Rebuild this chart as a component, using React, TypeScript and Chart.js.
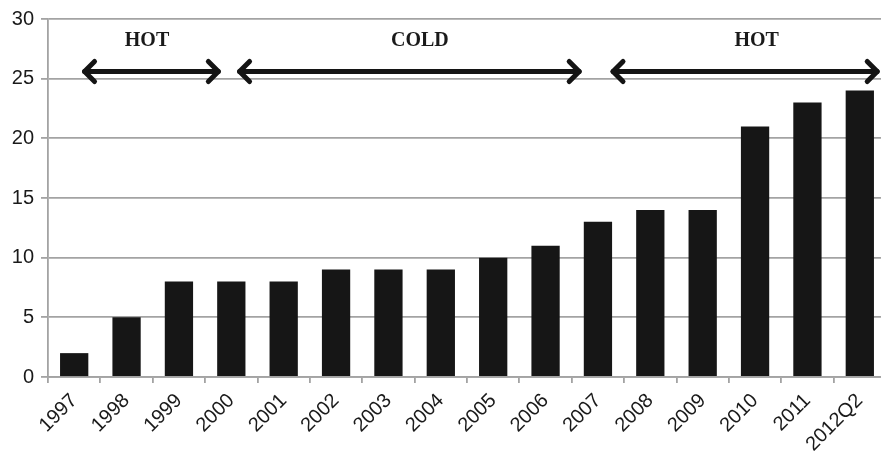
import React, { useEffect, useRef } from "react";
import { Chart, registerables } from "chart.js";

Chart.register(...registerables);

const categories = ["1997", "1998", "1999", "2000", "2001", "2002", "2003", "2004", "2005", "2006", "2007", "2008", "2009", "2010", "2011", "2012Q2"];
const values = [2, 5, 8, 8, 8, 9, 9, 9, 10, 11, 13, 14, 14, 21, 23, 24];
const yTicks = [0, 5, 10, 15, 20, 25, 30];

// annotation arrows in category-index units / value units
const arrowLabels = ["HOT", "COLD", "HOT"];
const arrowStarts = [0.15, 3.11, 10.24];
const arrowEnds = [2.8, 9.69, 15.38];
const labelCenters = [1.39, 6.6, 13.03];
const arrowLevel = 25.6;
const labelLevel = 28.2;

const arrowPlugin = {
  id: "arrows",
  afterDraw(chart: any) {
    const { ctx, scales } = chart;
    const xs = scales.x;
    const ys = scales.y;
    ctx.save();
    ctx.strokeStyle = "#141414";
    ctx.fillStyle = "#1a1a1a";
    ctx.lineWidth = 5;
    ctx.lineCap = "round";
    ctx.lineJoin = "round";
    const y = ys.getPixelForValue(arrowLevel);
    const h = 10;
    for (let i = 0; i < arrowStarts.length; i++) {
      const x1 = xs.getPixelForValue(arrowStarts[i]) + 2.5;
      const x2 = xs.getPixelForValue(arrowEnds[i]) - 2.5;
      ctx.beginPath();
      ctx.moveTo(x1, y);
      ctx.lineTo(x2, y);
      ctx.stroke();
      ctx.beginPath();
      ctx.moveTo(x1 + h, y - h);
      ctx.lineTo(x1, y);
      ctx.lineTo(x1 + h, y + h);
      ctx.stroke();
      ctx.beginPath();
      ctx.moveTo(x2 - h, y - h);
      ctx.lineTo(x2, y);
      ctx.lineTo(x2 - h, y + h);
      ctx.stroke();
      ctx.font = "bold 20px 'Liberation Serif', 'Times New Roman', serif";
      ctx.textAlign = "center";
      ctx.textBaseline = "middle";
      ctx.fillText(arrowLabels[i], xs.getPixelForValue(labelCenters[i]), ys.getPixelForValue(labelLevel));
    }
    ctx.restore();
  },
};

export default function App() {
  const ref = useRef<HTMLCanvasElement>(null);
  useEffect(() => {
    document.body.style.margin = "0";
    const canvas = ref.current!;
    const chart = new Chart(canvas, {
      type: "bar",
      data: {
        labels: categories,
        datasets: [
          {
            data: values,
            backgroundColor: "#161616",
            borderWidth: 0,
            barPercentage: 0.54,
            categoryPercentage: 1,
          },
        ],
      },
      options: {
        animation: false,
        responsive: false,
        maintainAspectRatio: false,
        layout: { padding: { top: 19, right: 2, left: 0, bottom: 0 } },
        plugins: { legend: { display: false }, tooltip: { enabled: false } },
        scales: {
          x: {
            grid: {
              offset: true,
              drawOnChartArea: false,
              drawTicks: true,
              tickLength: 6,
              color: "#a3a3a3",
              lineWidth: 1.8,
            },
            border: { color: "#a3a3a3", width: 1.8 },
            ticks: {
              minRotation: 45,
              maxRotation: 45,
              autoSkip: false,
              color: "#1a1a1a",
              font: { family: "'Liberation Sans', Arial, sans-serif", size: 20 },
              padding: 6,
            },
            afterFit(scale: any) {
              scale.height = 74;
            },
          },
          y: {
            min: 0,
            max: 30,
            afterBuildTicks(scale: any) {
              scale.ticks = yTicks.map((v) => ({ value: v }));
            },
            grid: {
              color: "#a3a3a3",
              lineWidth: 1.8,
              drawTicks: true,
              tickLength: 7,
            },
            border: { color: "#a3a3a3", width: 1.8 },
            ticks: {
              color: "#1a1a1a",
              font: { family: "'Liberation Sans', Arial, sans-serif", size: 20 },
              padding: 7,
            },
            afterFit(scale: any) {
              scale.width = 48;
            },
          },
        },
      },
      plugins: [arrowPlugin],
    });
    return () => chart.destroy();
  }, []);
  return (
    <div style={{ width: 881, height: 451, overflow: "hidden", position: "relative" }}>
      <canvas ref={ref} width={888} height={451} style={{ display: "block" }} />
    </div>
  );
}
